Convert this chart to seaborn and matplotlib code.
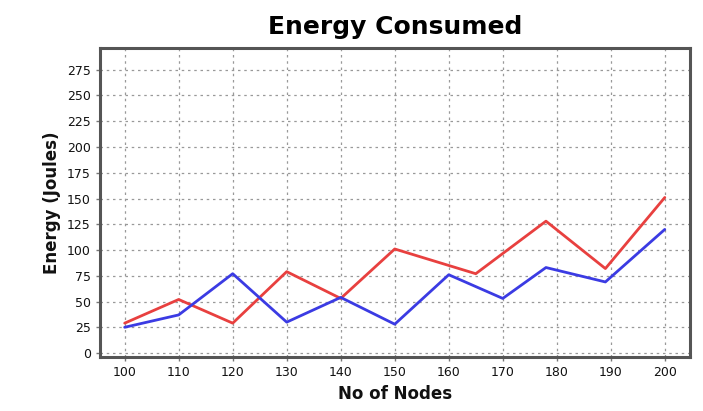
import pandas as pd
import seaborn as sns
import matplotlib.pyplot as plt

# values
red_nodes = [100, 110, 120, 130, 140, 150, 165, 178, 189, 200]
red_energy = [29, 52, 29, 79, 53, 101, 77, 128, 82, 151]

blue_nodes = [100, 110, 120, 130, 140, 150, 160, 170, 178, 189, 200]
blue_energy = [25, 37, 77, 30, 54, 28, 76, 53, 83, 69, 120]

x_ticks = list(range(100, 201, 10))
y_ticks = list(range(0, 276, 25))

df = pd.concat([
    pd.DataFrame({"Nodes": red_nodes, "Energy": red_energy, "Series": "red"}),
    pd.DataFrame({"Nodes": blue_nodes, "Energy": blue_energy, "Series": "blue"}),
])

sns.set_style("white")
plt.rcParams['font.family'] = ['DejaVu Sans']

fig = plt.figure(figsize=(7.03, 4.11), dpi=100)
ax = fig.add_axes([0.142, 0.131, 0.839, 0.752])

sns.lineplot(data=df, x="Nodes", y="Energy", hue="Series",
             palette={"red": "#e8403f", "blue": "#3b3be3"},
             linewidth=2, sort=False, legend=False, ax=ax)

ax.set_xlim(95.4, 204.6)
ax.set_ylim(-4, 296)
ax.set_xticks(x_ticks)
ax.set_yticks(y_ticks)
ax.grid(True, color="#999999", linestyle=(0, (2, 3)), linewidth=0.9)
ax.tick_params(axis="both", direction="out", length=3, width=1, color="#777777",
               labelsize=9, labelcolor="#111111", bottom=True, left=True)

for s in ax.spines.values():
    s.set_color("#555555")
    s.set_linewidth(2.2)

ax.set_title("Energy Consumed", fontsize=18, fontweight="heavy", color="black", pad=10)
ax.set_xlabel("No of Nodes", fontsize=12, fontweight="bold", color="#111111")
ax.set_ylabel("Energy (Joules)", fontsize=12, fontweight="bold", color="#111111")

plt.savefig("out.png", dpi=100)
